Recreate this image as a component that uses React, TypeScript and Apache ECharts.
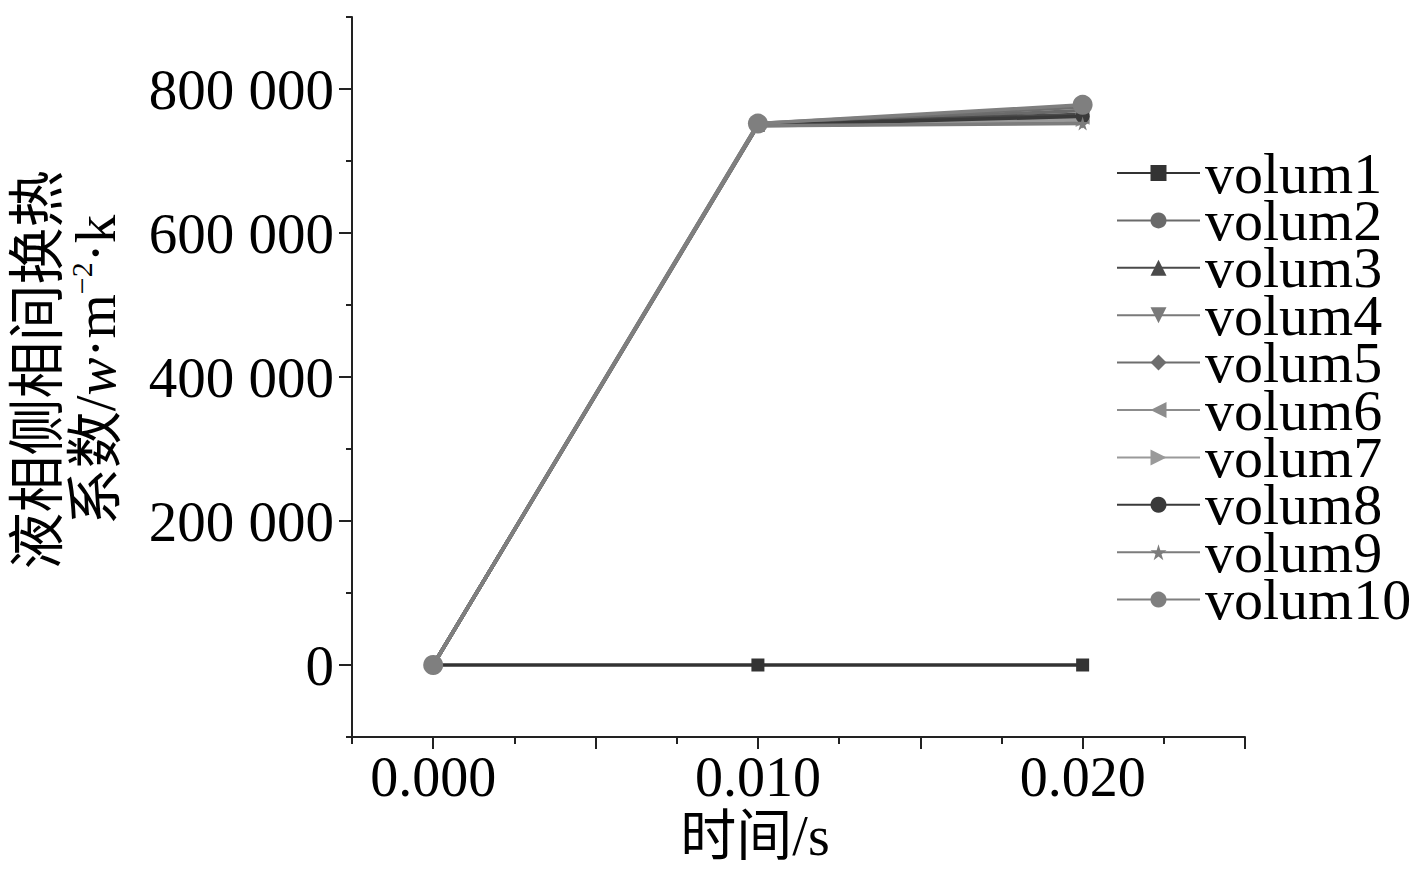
import React, { useEffect, useRef } from "react";
import * as echarts from "echarts";

const times = [0, 0.01, 0.02];
const seriesNames = ["volum1", "volum2", "volum3", "volum4", "volum5", "volum6", "volum7", "volum8", "volum9", "volum10"];
const volum1 = [0, 0, 0];
const volum2 = [0, 751000, 770000];
const volum3 = [0, 750000, 765000];
const volum4 = [0, 749000, 755000];
const volum5 = [0, 752000, 775000];
const volum6 = [0, 750000, 760000];
const volum7 = [0, 751000, 757000];
const volum8 = [0, 750000, 762000];
const volum9 = [0, 749000, 752000];
const volum10 = [0, 752000, 778000];
const seriesValues = [volum1, volum2, volum3, volum4, volum5, volum6, volum7, volum8, volum9, volum10];

const yMajorTicks = [0, 200000, 400000, 600000, 800000];
const xLabelTicks = [0, 0.01, 0.02];
const xMajorTicks = [0, 0.005, 0.01, 0.015, 0.02, 0.025];

const colors = ["#333333", "#6a6a6a", "#4a4a4a", "#7a7a7a", "#6e6e6e", "#8c8c8c", "#9a9a9a", "#3a3a3a", "#7c7c7c", "#7f7f7f"];
const symbols = [
  "rect",
  "circle",
  "triangle",
  "triangle",
  "diamond",
  "triangle",
  "triangle",
  "circle",
  "path://M50,0 L61,35 L98,35 L68,57 L79,91 L50,70 L21,91 L32,57 L2,35 L39,35 Z",
  "circle",
];
const rotates = [0, 0, 0, 180, 0, 90, -90, 0, 0, 0];
const sizes = [13, 14, 14, 14, 15, 14, 14, 14, 14, 20];

const FONT = "'Liberation Serif', 'Times New Roman', 'Noto Sans CJK SC', serif";

export default function App() {
  const ref = useRef<HTMLDivElement>(null);
  useEffect(() => {
    if (!ref.current) return;
    const chart = echarts.init(ref.current, undefined, { renderer: "svg" });
    const axisColor = "#222";
    const option: any = {
      animation: false,
      backgroundColor: "#fff",
      grid: { left: 352, right: 172, top: 17, bottom: 132 },
      legend: {
        orient: "vertical",
        left: 1116,
        top: 144,
        padding: 0,
        itemWidth: 83,
        itemHeight: 20,
        itemGap: -10.6,
        data: seriesNames,
        textStyle: { fontFamily: FONT, fontSize: 58, color: "#000" },
      },
      xAxis: [
        {
          type: "value",
          min: -0.0025,
          max: 0.025,
          interval: 0.0025,
          axisLine: { show: true, onZero: false, lineStyle: { color: axisColor, width: 2 } },
          axisTick: { show: true, length: 7, lineStyle: { color: axisColor, width: 2 } },
          axisLabel: { show: false },
          splitLine: { show: false },
        },
        {
          type: "value",
          position: "bottom",
          min: -0.0025,
          max: 0.025,
          interval: 0.0025,
          axisLine: { show: false, onZero: false },
          axisTick: { show: true, length: 12, customValues: xMajorTicks, lineStyle: { color: axisColor, width: 2 } },
          axisLabel: {
            show: true,
            customValues: xLabelTicks,
            formatter: (v: number) => v.toFixed(3),
            fontFamily: FONT,
            fontSize: 56,
            color: "#000",
            margin: 12,
          },
          splitLine: { show: false },
        },
      ],
      yAxis: [
        {
          type: "value",
          min: -100000,
          max: 900000,
          interval: 100000,
          axisLine: { show: true, onZero: false, lineStyle: { color: axisColor, width: 2 } },
          axisTick: { show: true, length: 6, lineStyle: { color: axisColor, width: 2 } },
          axisLabel: { show: false },
          splitLine: { show: false },
        },
        {
          type: "value",
          position: "left",
          min: -100000,
          max: 900000,
          interval: 100000,
          axisLine: { show: false, onZero: false },
          axisTick: { show: true, length: 13, customValues: yMajorTicks, lineStyle: { color: axisColor, width: 2 } },
          axisLabel: {
            show: true,
            customValues: yMajorTicks,
            formatter: (v: number) => (v === 0 ? "0" : `${v / 1000} 000`),
            fontFamily: FONT,
            fontSize: 57,
            color: "#000",
            margin: 18,
          },
          splitLine: { show: false },
        },
      ],
      graphic: [
        {
          type: "text",
          x: 66,
          y: 370,
          rotation: Math.PI / 2,
          style: {
            text: "{a|液相侧相间换热}\n{a|系数/}{i|w}{a|·m}{s|−2}{a|·k}",
            align: "center",
            verticalAlign: "middle",
            fill: "#000",
            rich: {
              a: { fontFamily: FONT, fontSize: 57, lineHeight: 58, fill: "#000" },
              i: { fontFamily: FONT, fontSize: 57, lineHeight: 58, fontStyle: "italic", fill: "#000" },
              s: { fontFamily: FONT, fontSize: 30, lineHeight: 58, verticalAlign: "top", padding: [0, 0, 22, 0], fill: "#000" },
            },
          },
        },
        {
          type: "text",
          x: 755,
          y: 836,
          style: {
            text: "时间/s",
            fontFamily: FONT,
            fontSize: 56,
            align: "center",
            verticalAlign: "middle",
            fill: "#000",
          },
        },
      ],
      series: seriesNames.map((name, i) => ({
        name,
        type: "line",
        xAxisIndex: 0,
        yAxisIndex: 0,
        data: times.map((t, j) => [t, seriesValues[i][j]]),
        symbol: symbols[i],
        symbolSize: sizes[i],
        symbolRotate: rotates[i],
        showAllSymbol: true,
        lineStyle: { color: colors[i], width: 3.5 },
        itemStyle: { color: colors[i] },
        z: 2 + i,
      })),
    };
    chart.setOption(option);
    return () => chart.dispose();
  }, []);
  return <div ref={ref} style={{ position: "fixed", left: 0, top: 0, width: 1417, height: 869 }} />;
}
